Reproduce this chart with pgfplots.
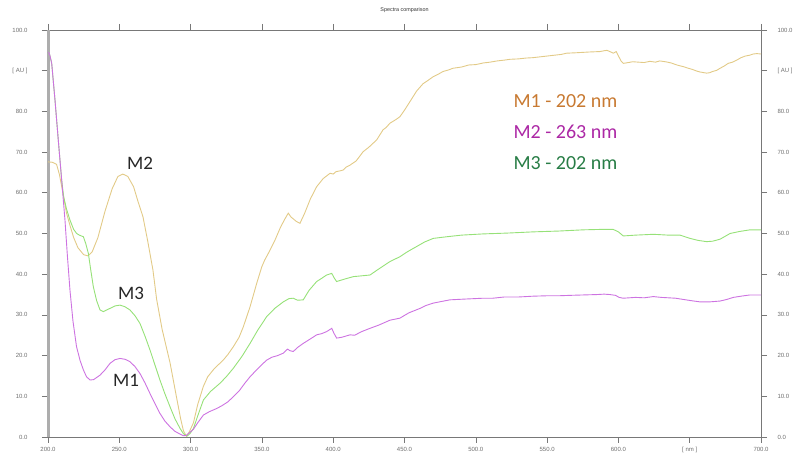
\documentclass[border=0pt]{standalone}
\usepackage{pgfplots}
\pgfplotsset{compat=1.18}
\usepackage{pgfplotstable}
\usepackage{fontspec}
\setmainfont{Liberation Sans}
\newfontfamily\labfont{Carlito}
\definecolor{tanc}{RGB}{226,202,135}
\definecolor{grnc}{RGB}{150,225,120}
\definecolor{magc}{RGB}{205,115,225}
\definecolor{legA}{RGB}{200,122,50}
\definecolor{legB}{RGB}{172,40,165}
\definecolor{legC}{RGB}{40,125,70}
\definecolor{axc}{RGB}{120,120,120}
\definecolor{lblc}{RGB}{110,110,110}

\pgfplotstableread{
x y
200 67.6
203 67.5
206 67
208 64.5
210.7 59.5
213 55
215.4 52
218 49
221 46.5
225 44.8
228 44.5
231 45.5
235 49
240 55.5
245 61
249 64
252.5 64.6
256 64
260 61.5
263 58
266.6 54.1
270 48
273.6 41
276.2 33.8
280 26.5
285.6 18.2
290 10
293 4.5
295 1.5
297 0.2
299 1.2
302 3.5
305 8
308.9 12.4
312 14.8
315.9 16.5
319 17.6
322.9 18.9
326 20.2
330 22.2
334 24.5
337 27.1
341.7 32
346.4 37.8
349.9 41.8
352 43.5
355.7 45.9
359.2 48.4
363 51.5
366 53.5
368.5 55
370.5 54
372 53.6
374 53
376.7 52.5
380 55
384 58.5
388.4 61.5
393 63.5
397.8 64.8
400 64.6
402 65.2
405 65.4
407 65.6
409 66.3
411.8 66.8
416 67.8
418 68.7
421 70.1
425 71.2
430.5 73
435 75.5
437 76
439.8 77.1
444 78
446.8 78.7
450 80.3
454 82.5
458.5 85
463 86.8
466 87.5
470 88.5
474 89.2
477 89.8
481 90.2
484 90.6
490 90.9
495 91.4
500 91.5
505.3 91.9
510 92.1
515 92.4
520 92.6
524 92.8
530 92.9
535 93.1
540 93.2
545 93.4
550 93.6
555 93.8
560 94.0
563.7 94.3
570 94.4
575 94.5
580 94.6
587 94.7
590 94.9
592 95
594 94.7
596.4 94.3
598.5 94.7
600.5 93.3
602 92.3
603.4 91.8
607 92
610 92.2
614 92.1
618 92
622 92.3
626 92.1
629 92.4
633 92.2
637 91.9
641 91.4
645.5 91
649 90.6
652 90.3
655 89.9
657 89.7
661.8 89.4
664 89.5
666 89.8
669 90.1
671.3 90.6
674 91.1
677 91.8
680 92.1
683 92.6
686 93.2
689 93.6
692 93.8
694.6 94.1
697 94.2
700 94.1
}\tanTable

\pgfplotstableread{
x y
200 94.5
201 94.2
202.6 91.8
204.9 82.8
207.2 73
209.6 63.1
211.9 53.3
213.5 45
215.4 36.1
217.5 28.5
220 22.2
222.5 18.8
224.8 16.5
227 14.8
229.5 14
232 14.1
236.5 15.2
240 16.5
243.5 18.1
247 19
250.5 19.3
254 19.1
257.5 18.5
261 17.3
264.5 15.6
268 13.3
271.5 10.7
275 8.2
278.5 5.8
282 3.9
285.6 2.5
289 1.4
292.6 0.7
295 0.3
297 0.4
299 1
302 1.9
305 3.5
309 5.4
313 6.2
318.3 7
322 7.7
326 8.6
330 9.9
334 11.3
338 13.2
341.7 14.8
346 16.4
350 17.8
353.4 18.9
357 19.6
361 20
365 20.6
368 21.6
369.7 21.2
372 21
375 22
379 23
384 24.1
388.4 25.1
392 25.4
395.4 25.9
399 26.7
400.5 25.5
402.4 24.3
406 24.5
411.8 25.1
415 25
420 25.9
425.8 26.7
432 27.5
439.8 28.7
446.8 29.2
453 30.5
460.9 31.6
465 32.3
470.2 32.9
476 33.3
481.9 33.7
493 33.9
505.3 34.1
512 34.1
520 34.4
530 34.4
540.3 34.6
550 34.7
558 34.7
566 34.8
575.4 34.9
585 35
590 35.1
594 35
598 34.8
600.5 34.3
603.4 34.1
612 34.3
618 34.2
624.5 34.5
630 34.3
635 34.2
640 34.1
645.5 33.8
651 33.5
657.2 33.2
664 33.2
671.3 33.4
676 33.8
680.6 34.3
686 34.6
692.3 34.9
700 34.9
}\magTable

\pgfplotstableread{
x y
200 94.5
201 94.2
202.6 91.8
204.9 82.8
207.2 73
209.6 63.1
211 59
213 56
215.4 53.3
218 51
220.1 50
222 49.6
224.8 49.2
226.5 47.5
228.3 45.1
230 41
231.8 36.9
234.1 33.5
236.5 31.2
238.8 30.8
241 31.2
243.5 31.6
247 32.2
250.5 32.4
254 32
257.5 31.2
261 29.8
264.5 27.9
268 24.8
271.5 21.4
275 17.7
278.5 14
282 10.6
285.6 7.4
289 4.5
292.6 2.1
295 0.8
297.5 0.2
299.5 0.8
302 2.1
305 5.2
309 9.1
314 11.2
320.6 13.2
325 14.8
330 16.9
336 19.8
341.7 23
347 26.2
353.4 29.6
359 31.6
365 33.2
369 34
372 34.1
375 33.6
379 33.7
383 36
388.4 38.2
392 39
395.4 39.8
399 40.2
400.5 39.2
402.4 38.2
408 38.8
414.1 39.4
420 39.6
425.8 39.8
432 41.3
439.8 43.1
446.8 44.3
452 45.5
458.5 46.8
464 47.9
470.2 48.8
479.6 49.2
490 49.6
505.3 49.9
522 50.1
540.3 50.4
558 50.6
575.4 50.9
587 51
596.4 51
600 50.4
603.4 49.4
612 49.6
624.5 49.8
635 49.6
643.2 49.6
650.2 48.8
656 48.3
661.8 48
666 48.1
671.3 48.6
678.3 50
685 50.5
692.3 50.9
700 50.9
}\grnTable

\begin{document}
\begin{tikzpicture}[x=1pt,y=1pt]
\path[use as bounding box] (0,0) rectangle (797,454);
\node[font=\fontsize{5.4}{6}\selectfont, text=black!80] at (404.5,444) {Spectra comparison};
\begin{axis}[
  at={(48pt,17pt)}, anchor=south west,
  scale only axis, width=713pt, height=407pt,
  xmin=200, xmax=700, ymin=0, ymax=100,
  xtick={200,250,...,700},
  xticklabels={200.0,250.0,300.0,350.0,400.0,450.0,500.0,550.0,600.0,{[ nm ]},700.0},
  ytick={0,10,...,100},
  yticklabels={0.0,10.0,20.0,30.0,40.0,50.0,60.0,70.0,80.0,{[ AU ]},100.0},
  tick align=outside,
  major tick length=6pt,
  tick style={axc, line width=0.6pt},
  axis line style={axc, line width=0.6pt},
  ticklabel style={font=\fontsize{6}{7}\selectfont, text=lblc},
  /pgf/number format/assume math mode=true,
  xticklabel pos=lower, yticklabel pos=left,
  yticklabel style={xshift=-11pt},
  xticklabel style={yshift=-1pt},
  clip=false,
]
\draw[line width=3pt, color=black!32] (axis cs:200,0) -- (axis cs:200,100);
\addplot[tanc, line width=0.9pt] table[x=x,y=y] {\tanTable};
\addplot[grnc, line width=0.9pt] table[x=x,y=y] {\grnTable};
\addplot[magc, line width=0.9pt] table[x=x,y=y] {\magTable};
\node[font=\labfont\fontsize{19}{20}\selectfont, text=black!85] at (axis cs:264.5,67.3) {M2};
\node[font=\labfont\fontsize{19}{20}\selectfont, text=black!85] at (axis cs:258.2,35.4) {M3};
\node[font=\labfont\fontsize{19}{20}\selectfont, text=black!85] at (axis cs:254.7,13.8) {M1};
\node[anchor=west, font=\labfont\fontsize{20}{21}\selectfont, text=legA] at (axis cs:524,82.6) {M1 - 202 nm};
\node[anchor=west, font=\labfont\fontsize{20}{21}\selectfont, text=legB] at (axis cs:524,74.9) {M2 - 263 nm};
\node[anchor=west, font=\labfont\fontsize{20}{21}\selectfont, text=legC] at (axis cs:524,67.3) {M3 - 202 nm};
\end{axis}
\begin{axis}[
  at={(48pt,17pt)}, anchor=south west,
  scale only axis, width=713pt, height=407pt,
  xmin=200, xmax=700, ymin=0, ymax=100,
  axis x line=none,
  axis y line*=right,
  axis line style={draw=none},
  ytick={0,10,...,100},
  yticklabels={0.0,10.0,20.0,30.0,40.0,50.0,60.0,70.0,80.0,{[ AU ]},100.0},
  ytick style={draw=none},
  yticklabel pos=right,
  ticklabel style={font=\fontsize{6}{7}\selectfont, text=lblc},
  yticklabel style={xshift=13pt},
]
\end{axis}
\end{tikzpicture}
\end{document}
